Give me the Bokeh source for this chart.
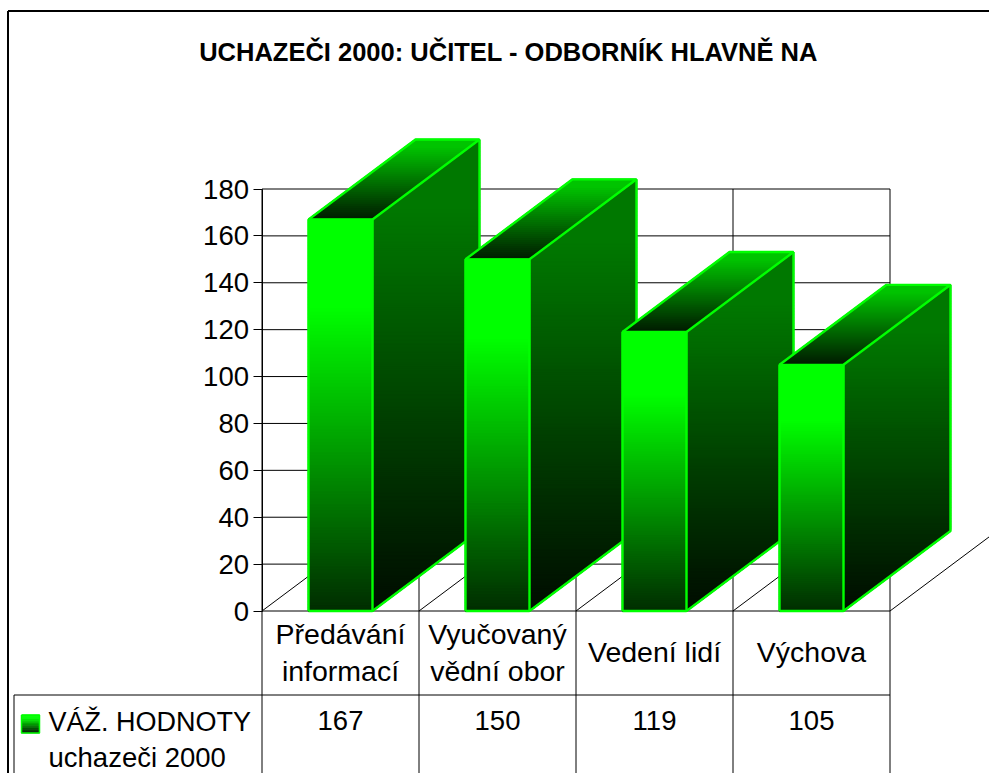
from bokeh.plotting import figure
from bokeh.embed import file_html
from bokeh.resources import INLINE
from bokeh.core.properties import value
from bokeh.models import LinearAxis, FixedTicker, Range1d

title = "UCHAZEČI 2000: UČITEL - ODBORNÍK HLAVNĚ NA"
cat_lines = [["Předávání", "informací"], ["Vyučovaný", "vědní obor"], ["Vedení lidí"], ["Výchova"]]
values = [167, 150, 119, 105]
y_ticks = [0, 20, 40, 60, 80, 100, 120, 140, 160, 180]
legend_lines = ["VÁŽ. HODNOTY", "uchazeči 2000"]

FONT_NAME = "Liberation Sans"
FONT = value(FONT_NAME)
PAGE_W, PAGE_H = 989, 773
AX_L, AX_R, AX_T, AX_B = 261.5, 889.5, 188.5, 610.5
UX = (AX_R - AX_L) / 4
UY = (AX_B - AX_T) / 180


def X(px):
    return (px - AX_L) / UX


def Y(py):
    return (AX_B - py) / UY


p = figure(width=PAGE_W, height=PAGE_H, output_backend="svg", toolbar_location=None,
           x_range=Range1d(X(0), X(PAGE_W)), y_range=Range1d(Y(PAGE_H), Y(0)),
           x_axis_location=None, y_axis_location=None, min_border=0,
           outline_line_color=None, background_fill_color="white", border_fill_color="white")
p.grid.visible = False

INK = "#000000"
LW = 1


def rule(x0, y0, x1, y1, width=LW):
    p.segment([X(x0)], [Y(y0)], [X(x1)], [Y(y1)], line_color=INK, line_width=width)


# frame and table rules
n = len(values)
rule(7.5, 10.5, 7.5, 773, 2)
rule(7.5, 10.5, 989, 10.5, 2)
rule(13.5, 694.5, 13.5, 773)
rule(13.5, 694.5, AX_R, 694.5)
p.segment([0] * len(y_ticks), y_ticks, [n] * len(y_ticks), y_ticks, line_color=INK, line_width=LW)
p.segment(list(range(n + 1)), [180] * (n + 1), list(range(n + 1)), [Y(773)] * (n + 1), line_color=INK, line_width=LW)

DX = 107 / UX
DY = 80 / UY
p.segment(list(range(n + 1)), [0] * (n + 1), [i + DX for i in range(n + 1)], [DY] * (n + 1), line_color=INK, line_width=LW)


def mix(a, b, t):
    return "#00%02x00" % round(a + (b - a) * t)


def shade(frac, hi, lo, flat):
    # frac 0 at top of the shape, 1 at the bottom
    return mix(hi, lo, max(0.0, (frac - flat) / (1 - flat)))


BAR_W = 64 / UX
BANDS = 120
for i, v in enumerate(values):
    xl = i + 0.5 - BAR_W / 2
    xr = xl + BAR_W
    # side face
    xs, ys, cs = [], [], []
    top = v + DY
    for k in range(BANDS):
        y1 = top - top * k / BANDS
        y0 = top - top * (k + 1) / BANDS

        def left(y):
            return xr + max(0, (y - v) / DY * DX)

        def right(y):
            return xr + min(DX, y / DY * DX)
        xs.append([left(y0), right(y0), right(y1), left(y1)])
        ys.append([y0, y0, y1, y1])
        cs.append(shade((k + .5) / BANDS, 0x78, 0x0c, 0.15))
    p.patches(xs, ys, fill_color=cs, line_color=cs, line_width=1.5)
    # top face
    xs, ys, cs = [], [], []
    B2 = 40
    for k in range(B2):
        f0, f1 = k / B2, (k + 1) / B2
        xs.append([xl + DX * f0, xr + DX * f0, xr + DX * f1, xl + DX * f1])
        ys.append([v + DY * f0, v + DY * f0, v + DY * f1, v + DY * f1])
        cs.append(shade(1 - (k + .5) / B2, 0xc4, 0x18, 0.08))
    p.patches(xs, ys, fill_color=cs, line_color=cs, line_width=1.5)
    # front face
    bottoms = [v * k / BANDS for k in range(BANDS)]
    tops = [v * (k + 1) / BANDS for k in range(BANDS)]
    cs = [shade(1 - (k + .5) / BANDS, 0xff, 0x2c, 0.22) for k in range(BANDS)]
    p.quad(left=[xl] * BANDS, right=[xr] * BANDS, bottom=bottoms, top=tops, fill_color=cs, line_color=cs, line_width=1.5)
    # outlines
    p.multi_line([[xl, xr, xr, xl, xl], [xl, xl + DX, xr + DX, xr], [xr + DX, xr + DX, xr]],
                 [[0, 0, v, v, 0], [v, v + DY, v + DY, v], [v + DY, DY, 0]],
                 line_color="#00ff00", line_width=2.4)

# value axis
ax = LinearAxis(fixed_location=0, ticker=FixedTicker(ticks=y_ticks), bounds=(0, 180))
ax.axis_line_color = INK
ax.major_tick_line_color = INK
ax.major_tick_out = 9
ax.major_tick_in = 0
ax.minor_tick_line_color = None
ax.major_label_standoff = 4
ax.major_label_text_font = FONT_NAME
ax.major_label_text_font_size = "27.5px"
ax.major_label_text_color = INK
p.add_layout(ax, "left")

# title
p.text([X(508)], [Y(51)], text=[title], text_font=FONT, text_font_style="bold", text_font_size="25.5px",
       text_align="center", text_baseline="alphabetic", text_color=INK)

# category labels
tx, ty, tt = [], [], []
for i, lines in enumerate(cat_lines):
    bases = [633, 670] if len(lines) == 2 else [651]
    for line, b in zip(lines, bases):
        tx.append(i + 0.5)
        ty.append(Y(b))
        tt.append(line)
p.text(tx, ty, text=tt, text_font=FONT, text_font_size="28.5px", text_align="center",
       text_baseline="alphabetic", text_color=INK)

# data table row
p.text([i + 0.5 for i in range(n)], [Y(720)] * n, text=[str(v) for v in values], text_font=FONT,
       text_font_size="27.5px", text_align="center", text_baseline="alphabetic", text_color=INK)

# legend cell
p.text([X(48)], [Y(721)], text=legend_lines[:1], text_font=FONT, text_font_size="27px",
       text_align="left", text_baseline="alphabetic", text_color=INK)
p.text([X(48)], [Y(757)], text=legend_lines[1:], text_font=FONT, text_font_size="27.5px",
       text_align="left", text_baseline="alphabetic", text_color=INK)
SB = 14
sy0, sy1 = 714.5, 732.5
sc = [shade((k + .5) / SB, 0xff, 0x10, 0.2) for k in range(SB)]
p.quad(left=[X(21)] * SB, right=[X(39)] * SB,
       top=[Y(sy0 + (sy1 - sy0) * k / SB) for k in range(SB)],
       bottom=[Y(sy0 + (sy1 - sy0) * (k + 1) / SB) for k in range(SB)],
       fill_color=sc, line_color=sc, line_width=0.7)
p.multi_line([[X(21), X(39), X(39), X(21), X(21)]], [[Y(sy0), Y(sy0), Y(sy1), Y(sy1), Y(sy0)]],
             line_color="#00ff00", line_width=1.5)

open("out.html", "w").write(file_html(p, INLINE))
